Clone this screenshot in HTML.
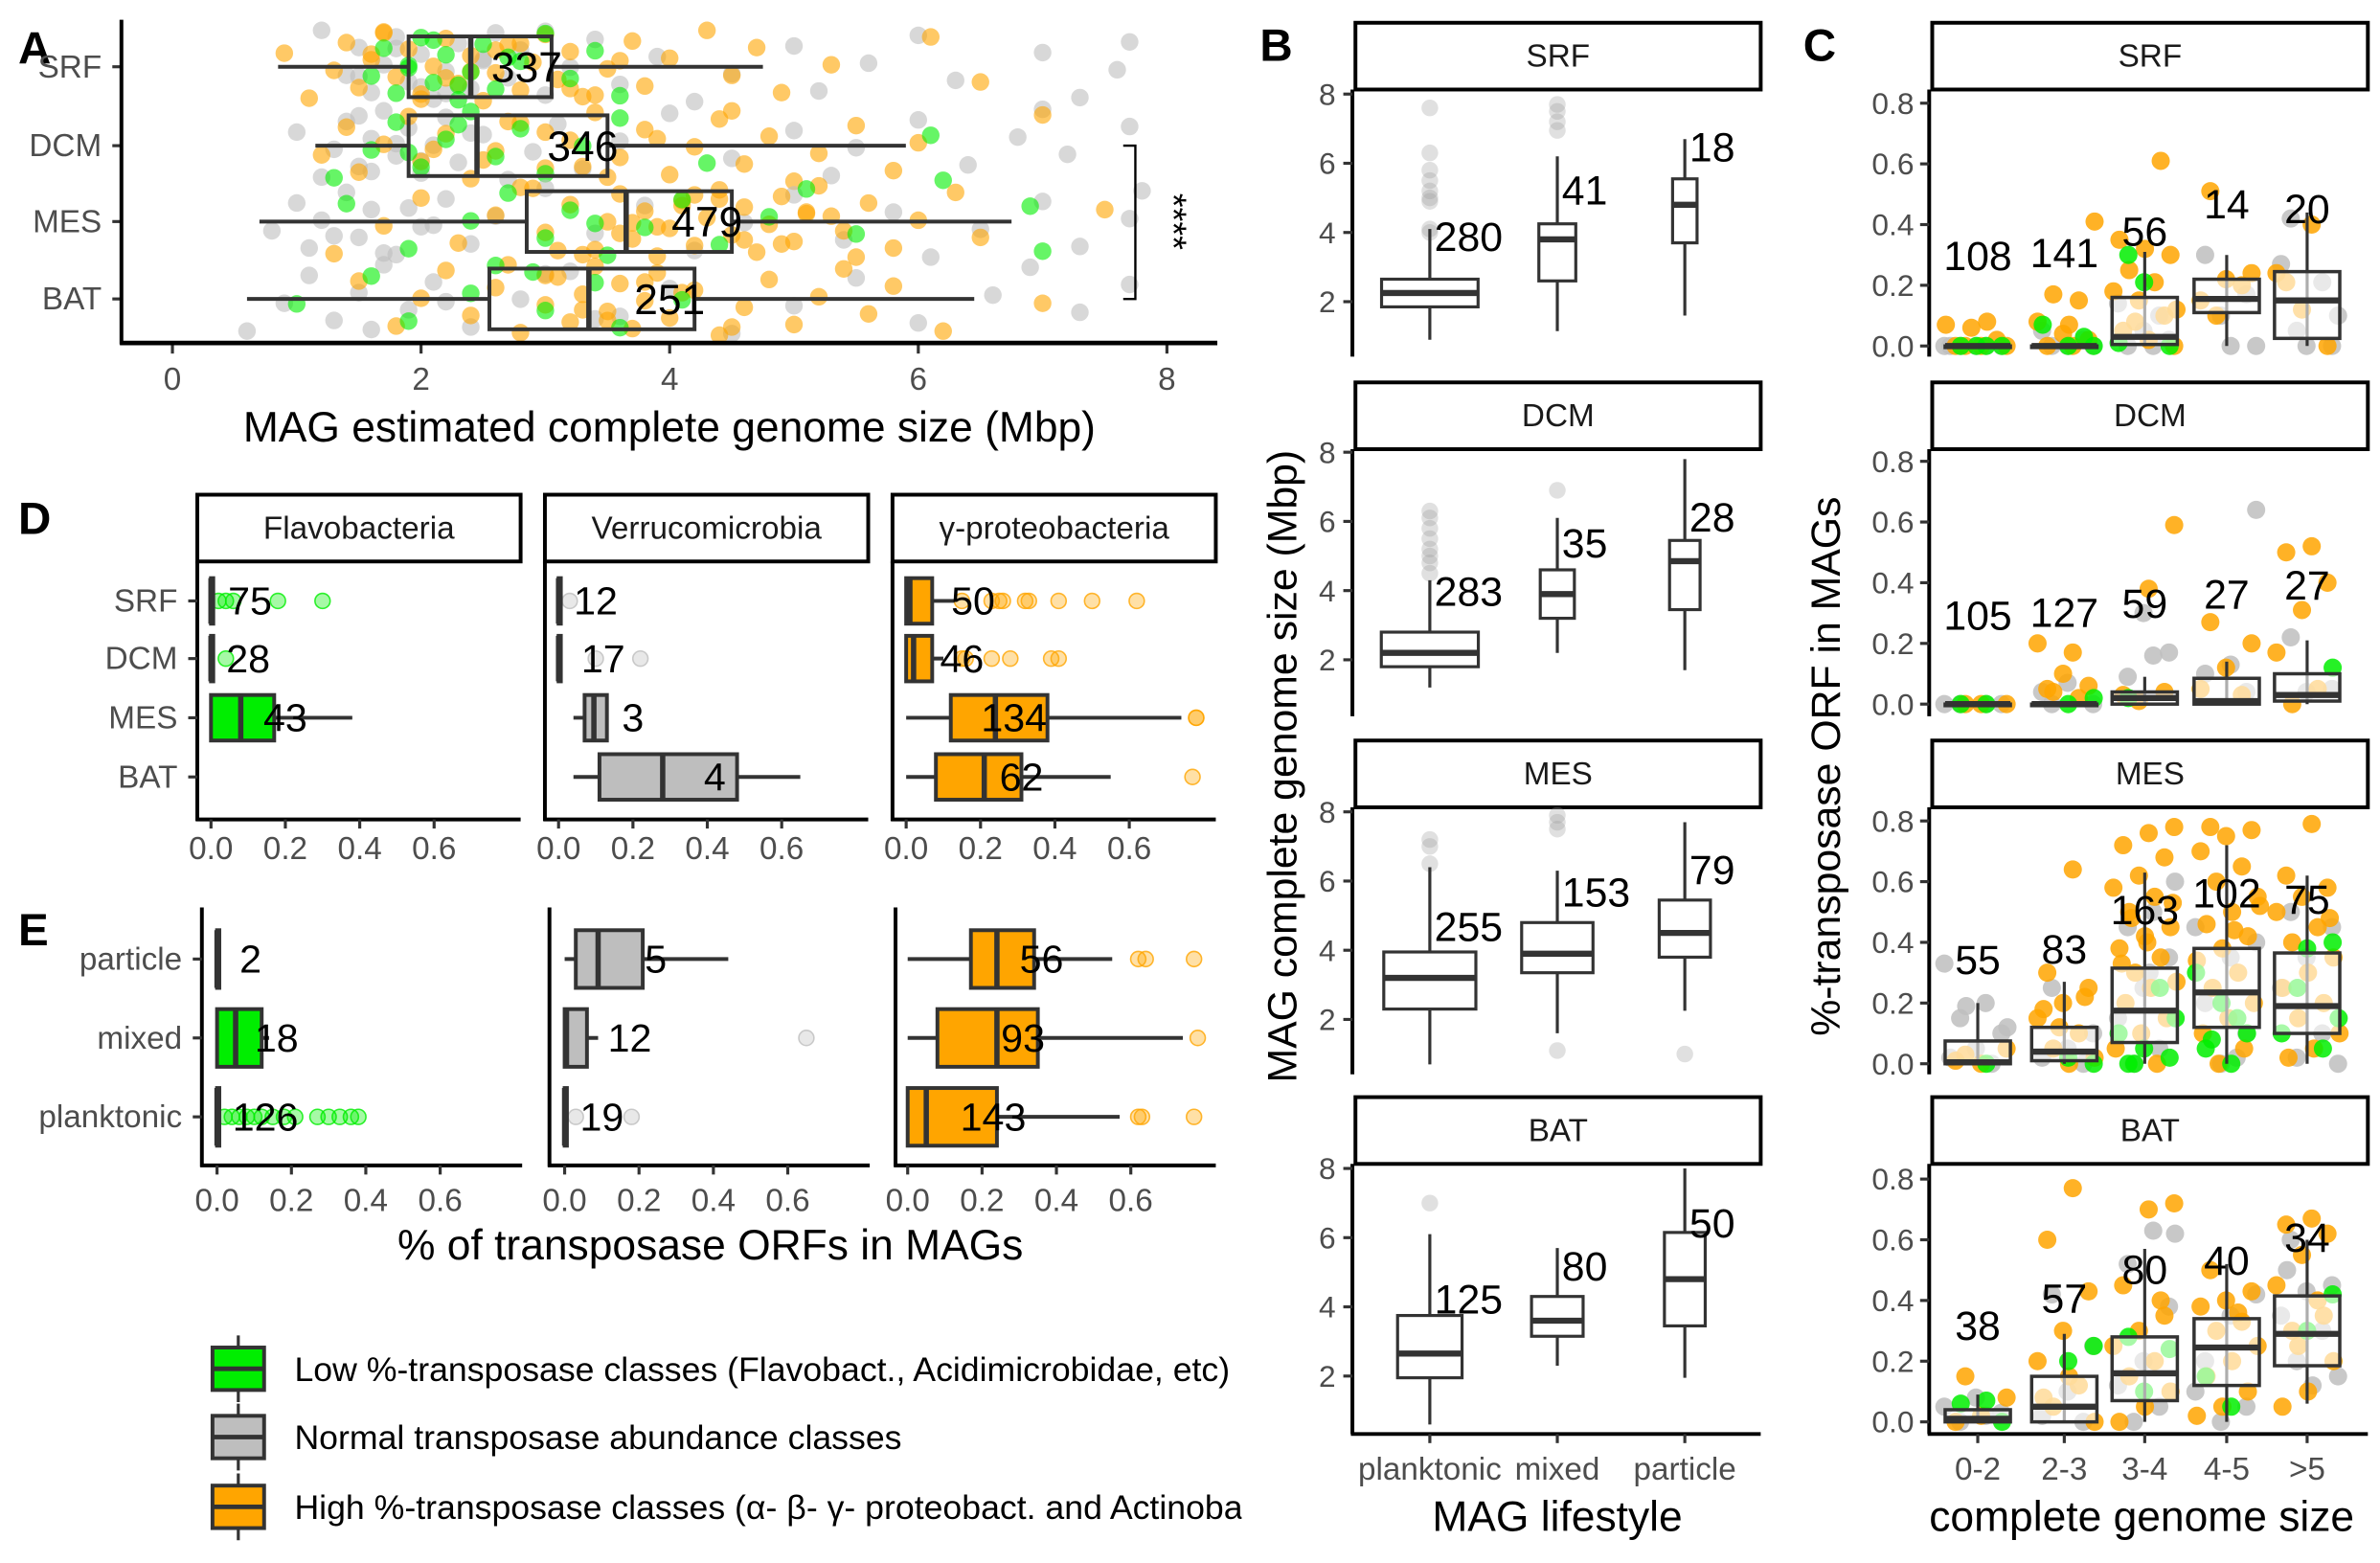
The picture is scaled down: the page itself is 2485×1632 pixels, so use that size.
<!DOCTYPE html>
<html><head><meta charset="utf-8">
<style>
html,body{margin:0;padding:0;background:#fff;}
svg{display:block;font-family:"Liberation Sans",Arial,sans-serif;}
</style></head>
<body>
<svg id="fig" width="2485" height="1632" viewBox="0 0 1568 1030" preserveAspectRatio="none" xmlns="http://www.w3.org/2000/svg">
<defs><clipPath id="legclip"><rect x="0" y="860" width="818" height="170"/></clipPath></defs>
</svg>
<script>
// ---------- DATA ----------
// Panel A: genome size by layer
const aLayers = ["SRF","DCM","MES","BAT"];
const aLow = [0.85,1.15,0.7,0.6];
const aQ1 = [1.9,1.9,2.85,2.55];
const aMed = [2.4,2.45,3.65,3.35];
const aQ3 = [3.05,3.5,4.5,4.2];
const aHigh = [4.75,5.9,6.75,6.45];
const aN = ["337","346","479","251"];
const aTicks = [0,2,4,6,8];
const aOrange = [
 [0.9,1.1,1.3,1.4,1.5,1.6,1.7,1.8,1.9,2.0,2.1,2.2,2.3,2.4,2.5,2.6,2.7,2.8,2.9,3.0,3.1,3.2,3.3,3.5,3.7,3.8,4.0,4.3,4.5,4.7,4.9,5.3,6.1,6.5,1.6,2.0,2.4,2.8,3.2,3.6,1.7,2.2,2.6,3.4],
 [1.2,1.4,1.5,1.7,1.9,2.0,2.2,2.4,2.6,2.8,3.0,3.2,3.4,3.6,3.8,4.0,4.2,4.4,4.6,4.8,5.0,5.2,5.5,5.8,6.0,7.0,2.5,3.0,3.5,2.1,2.7,3.3,3.9,4.5],
 [1.3,1.7,2.0,2.3,2.6,2.8,3.0,3.2,3.4,3.5,3.6,3.7,3.8,3.9,4.0,4.1,4.2,4.3,4.4,4.5,4.6,4.7,4.8,4.9,5.0,5.1,5.2,5.4,5.6,5.8,6.0,6.3,6.5,7.5,3.3,3.9,4.4,4.9,5.3,2.9,3.6,4.1,3.1,3.7,4.2,4.6,5.1,5.5],
 [1.5,1.8,2.0,2.2,2.4,2.6,2.8,3.0,3.1,3.2,3.3,3.4,3.5,3.6,3.7,3.8,3.9,4.0,4.2,4.4,4.6,4.8,5.0,5.2,5.4,5.6,5.8,6.2,7.0,3.0,3.5,4.1,2.7,3.3,3.8,4.5]];
const aGray = [
 [1.2,1.4,1.5,1.6,1.7,1.8,1.9,2.0,2.1,2.2,2.3,2.4,2.5,2.6,2.7,2.8,3.0,3.2,3.4,3.6,3.9,4.2,4.5,5.0,5.2,5.6,6.0,6.3,7.0,7.3,7.6,7.7,2.0,2.5,3.0,1.5,1.8,2.2],
 [1.0,1.2,1.3,1.4,1.5,1.6,1.7,1.8,1.9,2.0,2.1,2.2,2.3,2.5,2.7,2.9,3.1,3.3,3.6,4.0,4.5,5.0,5.3,5.5,6.0,6.4,6.8,7.0,7.2,7.7,1.6,1.8,1.5,2.0,2.4],
 [0.8,1.0,1.1,1.2,1.4,1.5,1.6,1.8,2.0,2.2,2.4,2.6,3.0,3.4,3.8,4.2,4.6,5.0,5.4,5.8,6.1,6.5,7.0,7.3,7.7,7.8,1.3,1.9,1.7,2.1],
 [0.6,0.9,1.1,1.3,1.5,1.7,1.9,2.1,2.4,2.8,3.2,3.6,4.0,4.5,5.0,5.5,6.0,6.6,6.9,7.3,7.7,1.6,2.2,3.0,3.4]];
const aGreen = [
 [1.6,1.7,1.8,1.9,2.0,2.1,2.2,2.3,2.4,2.5,2.6,2.8,3.0,3.2,3.4,3.6,1.9,2.1,2.3,2.7],
 [1.3,1.6,1.8,2.0,2.2,2.4,2.6,2.8,3.0,3.3,3.6,4.3,6.1,6.2,1.9,2.3],
 [1.4,1.9,2.4,2.7,3.0,3.2,3.5,3.8,4.1,4.4,4.8,5.1,5.5,6.9,7.0,3.4],
 [1.0,1.6,1.9,2.4,2.6,3.0,3.4,3.6,4.1,2.9]];

// Panel B: lifestyle x layer
const bLifestyles = ["planktonic","mixed","particle"];
const bLow = [[0.9,1.15,1.6],[1.2,2.2,1.7],[0.7,1.6,2.25],[0.6,2.3,1.95]];
const bQ1 = [[1.85,2.6,3.7],[1.8,3.2,3.45],[2.3,3.35,3.8],[1.95,3.15,3.45]];
const bMed = [[2.25,3.8,4.8],[2.2,3.9,4.85],[3.2,3.9,4.5],[2.65,3.6,4.8]];
const bQ3 = [[2.65,4.25,5.55],[2.8,4.6,5.45],[3.95,4.8,5.45],[3.75,4.3,6.15]];
const bHigh = [[4.1,6.2,6.7],[4.3,6.1,7.8],[6.4,6.3,7.7],[6.1,5.7,8.0]];
const bN = [[280,41,18],[283,35,28],[255,153,79],[125,80,50]];
const bLabelAt = [[3.9,5.25,6.5],[4.0,5.4,6.15],[4.7,5.7,6.35],[4.25,5.2,6.45]];
const bOut = [[[4.0,4.1,4.9,5.0,5.2,5.5,5.8,6.3,7.6],[6.95,7.2,7.5,7.7],[]],
 [[4.5,4.8,5.0,5.2,5.5,5.8,6.1,6.3],[6.9],[]],
 [[6.5,7.0,7.2],[1.1,7.5,7.7,7.9],[1.0]],
 [[7.0],[],[]]];
const bTicks = [2,4,6,8];

// Panel C: %-transposase by genome size class
const cClasses = ["0-2","2-3","3-4","4-5",">5"];
const cLow = [[0,0,0,0,0],[0,0,0,0,0],[0,0,0,0,0],[0,0,0,0,0.06]];
const cQ1 = [[0,0,0.005,0.11,0.025],[0,0,0,0,0.01],[0,0.01,0.07,0.12,0.1],[0,0,0.07,0.12,0.185]];
const cMed = [[0,0,0.03,0.155,0.15],[0,0,0.02,0.01,0.03],[0.005,0.04,0.175,0.235,0.19],[0.01,0.05,0.16,0.245,0.29]];
const cQ3 = [[0,0,0.16,0.22,0.245],[0,0,0.04,0.085,0.1],[0.075,0.12,0.315,0.38,0.365],[0.04,0.15,0.28,0.34,0.415]];
const cHigh = [[0,0,0.31,0.30,0.44],[0,0,0.09,0.14,0.21],[0.2,0.27,0.63,0.72,0.62],[0.09,0.29,0.57,0.52,0.6]];
const cN = [[108,141,56,14,20],[105,127,59,27,27],[55,83,163,102,75],[38,57,80,40,34]];
const cLabelAt = [[0.30,0.31,0.38,0.47,0.455],[0.295,0.305,0.335,0.365,0.395],[0.345,0.38,0.51,0.565,0.545],[0.32,0.41,0.505,0.535,0.61]];
const cTicks = [0,0.2,0.4,0.6,0.8];
const cOrange = [
 [[0,0,0,0,0.02,0.06,0.07,0.08],[0,0,0.02,0.04,0.08,0.15,0.17,0.41,0.07],[0,0.02,0.05,0.1,0.15,0.18,0.21,0.25,0.3,0.32,0.35,0.61,0.08,0.12],[0.51,0.24,0.22,0.15,0.2,0.1],[0.4,0.21,0,0.12,0.24]],
 [[0,0,0],[0.17,0.05,0.06,0.1,0.2,0.02,0.04],[0.59,0.38,0.03,0.04,0.01],[0.27,0.2,0.12,0.05,0.03],[0.52,0.5,0.4,0.31,0.17,0.05,0]],
 [[0.03,0.05,0,0.01],[0.64,0.3,0.25,0.2,0.15,0.1,0.05,0.02,0,0.18,0.22,0.12],[0.78,0.76,0.72,0.68,0.62,0.58,0.55,0.5,0.45,0.42,0.38,0.35,0.3,0.27,0.25,0.2,0.15,0.1,0.05,0,0.48,0.53,0.4,0.33],[0.78,0.77,0.75,0.7,0.65,0.6,0.55,0.5,0.46,0.42,0.38,0.34,0.3,0.25,0.2,0.15,0.1,0.05,0,0.52,0.44],[0.79,0.62,0.58,0.55,0.5,0.45,0.4,0.35,0.3,0.25,0.2,0.15,0.1,0.05,0.02,0.48]],
 [[0.15,0.08,0.02,0],[0.77,0.6,0.43,0.3,0.2,0.12,0.05,0,0.15,0.08],[0.72,0.7,0.45,0.35,0.3,0.25,0.2,0.15,0.1,0.05,0,0.4],[0.5,0.43,0.4,0.38,0.33,0.3,0.25,0.2,0.15,0.1,0.05,0.02,0.36],[0.67,0.65,0.62,0.55,0.45,0.4,0.3,0.2,0.1,0.05,0.35,0.25]]];
const cGray = [
 [[0,0,0,0,0,0],[0,0,0,0.05,0.02],[0,0,0.02,0.05,0.14,0.1],[0,0,0.3,0.17,0.1],[0.42,0,0,0.27,0.21,0.05,0.1]],
 [[0,0,0,0],[0,0,0.07,0.04],[0.16,0.09,0.17,0.3],[0.64,0.13,0.1,0.04],[0.22,0.05,0.04]],
 [[0.33,0.2,0.15,0.1,0.05,0.02,0,0.19,0.12],[0.25,0.1,0.05,0.02,0],[0.5,0.45,0.35,0.25,0.15,0.05,0,0.6,0.3],[0.4,0.35,0.2,0.1,0,0.45,0.02],[0.5,0.45,0.35,0.25,0.1,0.02,0]],
 [[0.05,0.02,0,0.03,0.08],[0.42,0.25,0.1,0.02,0],[0.63,0.52,0.38,0.2,0.12,0.05,0,0.62],[0.42,0.35,0.2,0.05,0,0.1],[0.6,0.45,0.43,0.35,0.3,0.2,0.15,0.12,0.5]]];
const cGreen = [
 [[0,0,0,0],[0,0,0.07,0.03],[0.3,0,0.21,0.01],[],[]],
 [[0,0],[0.02,0],[0.02],[],[0.12]],
 [[0],[0,0.02],[0,0.02,0.05,0.1,0.25,0,0.15],[0,0.05,0.1,0.2,0.3,0.15,0.08],[0.4,0.38,0.1,0.05,0.25,0.15]],
 [[0.07,0.06,0],[0.25,0.2],[0.28,0.24,0.1],[0.05,0.15],[0.42,0.3]]];

// Panels D/E: taxa
const taxa = ["Flavobacteria","Verrucomicrobia","γ-proteobacteria"];
const taxaColors = ["#00EE00","#BEBEBE","#FFA500"];
const dRows = ["SRF","DCM","MES","BAT"];
const dLow = [[0,0,0,null],[0,0,0.04,0.04],[0,0,0,0]];
const dQ1 = [[0,0,0,null],[0,0,0.07,0.11],[0,0,0.12,0.08]];
const dMed = [[0,0,0.08,null],[0,0,0.095,0.28],[0.01,0.02,0.24,0.21]];
const dQ3 = [[0,0,0.17,null],[0,0,0.13,0.48],[0.07,0.07,0.38,0.31]];
const dHigh = [[0,0,0.38,null],[0,0,0.13,0.65],[0.13,0.1,0.74,0.55]];
const dN = [["75","28","43",""],["12","17","3","4"],["50","46","134","62"]];
const dLabelAt = [[0.105,0.1,0.2,0],[0.1,0.12,0.2,0.42],[0.18,0.15,0.29,0.31]];
const dOut = [[[0.02,0.04,0.06,0.18,0.3],[0.04],[],[]],[[0.03],[0.1,0.22],[],[]],[[0.15,0.23,0.25,0.26,0.32,0.33,0.41,0.5,0.62],[0.15,0.16,0.23,0.28,0.39,0.41],[0.78,0.78],[0.77]]];
const eRows = ["particle","mixed","planktonic"];
const eLow = [[0,0,0],[0,0,0],[0,0,0]];
const eQ1 = [[0,0,0],[0.03,0,0],[0.17,0.08,0]];
const eMed = [[0,0.05,0],[0.09,0.005,0],[0.24,0.24,0.05]];
const eQ3 = [[0,0.12,0],[0.21,0.06,0],[0.34,0.35,0.24]];
const eHigh = [[0,0.14,0],[0.44,0.09,0],[0.55,0.74,0.57]];
const eN = [["2","18","126"],["5","12","19"],["56","93","143"]];
const eLabelAt = [[0.09,0.16,0.13],[0.245,0.175,0.1],[0.36,0.31,0.23]];
const eOut = [[[],[],[0.02,0.04,0.06,0.08,0.1,0.12,0.15,0.18,0.21,0.27,0.3,0.33,0.36,0.38]],[[],[0.65],[0.03,0.18]],[[0.62,0.64,0.77],[0.78],[0.62,0.63,0.77]]];
const dTicks = [0,0.2,0.4,0.6];
const legendLabels = ["Low %-transposase classes (Flavobact., Acidimicrobidae, etc)","Normal transposase abundance classes","High %-transposase classes (α- β- γ- proteobact. and Actinobacteria)"];

// ---------- SCALES ----------
const ax = v => 113.6 + v*81.9;
const aRowY = [44,96,146,197];
const bTop = [62,298,535,770];
const by = (p,v) => bTop[p] + (8-v)*22.8;
const bCatX = [942,1026,1110];
const cBot = [228,464,701,937];
const cy = (p,v) => cBot[p] - v*200;
const cCatX = [1303,1360,1413,1467,1520];
const d0 = [139,368,597];
const dx = (f,v) => d0[f] + v*245;
const dRowY = [396,434,473,512];
const e0 = [143,372,598];
const ex = (f,v) => e0[f] + v*245;
const eRowY = [632,684,736];

// ---------- HELPERS ----------
const svg = document.getElementById('fig');
const NS = "http://www.w3.org/2000/svg";
function mk(tag, attrs, parent){
  const el = document.createElementNS(NS, tag);
  for (const k in attrs) el.setAttribute(k, attrs[k]);
  (parent||svg).appendChild(el);
  return el;
}
function txt(x,y,s,size,anchor,fill,parent,extra){
  const t = mk('text',Object.assign({x:x,y:y,'font-size':size,'text-anchor':anchor||'start',fill:fill||'#000'},extra||{}),parent);
  t.textContent = s;
  return t;
}
function jit(i,k){ return ((i*0.6180339 + k*0.3137) % 1) - 0.5; }
const STK = '#333333';
const COL = {o:'#FFA500', g:'#BEBEBE', n:'#00EE00'};

// ---------- PANEL LETTERS ----------
[["A",12,42],["B",830,40],["C",1188,40],["D",12,352],["E",12,623]].forEach(L=>{
  const t = txt(L[1],L[2],L[0],30,'start','#000',svg,{'font-weight':'bold'});
  
  
});

// ---------- PANEL A ----------
const gA = mk('g',{});


aLayers.forEach((lay,r)=>{
  const cy0 = aRowY[r];
  [[aGray[r],COL.g,0],[aOrange[r],COL.o,1],[aGreen[r],COL.n,2]].forEach(([arr,c,k])=>{
    arr.forEach((v,i)=>{
      const p = mk('circle',{cx:ax(v),cy:cy0+jit(i,k+r)*48,r:5.8,fill:c,'fill-opacity':0.6},gA);
      
      
    });
  });
});
aLayers.forEach((lay,r)=>{
  const y = aRowY[r];
  const w1 = mk('line',{x1:ax(aLow[r]),x2:ax(aQ1[r]),y1:y,y2:y,stroke:STK,'stroke-width':2.5},gA);
  
  
  const w2 = mk('line',{x1:ax(aQ3[r]),x2:ax(aHigh[r]),y1:y,y2:y,stroke:STK,'stroke-width':2.5},gA);
  
  
  const b = mk('rect',{x:ax(aQ1[r]),y:y-20,width:ax(aQ3[r])-ax(aQ1[r]),height:40,fill:'none',stroke:STK,'stroke-width':2.5},gA);
  
  
  const m = mk('line',{x1:ax(aMed[r]),x2:ax(aMed[r]),y1:y-20,y2:y+20,stroke:STK,'stroke-width':3.5},gA);
  
  
  const t = txt(ax(aQ3[r]-0.2),y+10,aN[r],28,'middle','#000',gA);
  
  
  const tk = mk('line',{x1:74,x2:80,y1:y,y2:y,stroke:STK,'stroke-width':2},gA);
  
  
  const tl = txt(67,y+7,lay,21,'end','#4D4D4D',gA);
  
  
});
aTicks.forEach(v=>{
  const tk = mk('line',{x1:ax(v),x2:ax(v),y1:227,y2:233,stroke:STK,'stroke-width':2},gA);
  
  
  const tl = txt(ax(v),257,String(v),21,'middle','#4D4D4D',gA);
  
  
});
const aAxY = mk('line',{x1:80,x2:80,y1:13,y2:227,stroke:'#000','stroke-width':2.5},gA);


const aAxX = mk('line',{x1:79,x2:802,y1:226,y2:226,stroke:'#000','stroke-width':3},gA);


const aTitle = txt(441,291,'MAG estimated complete genome size (Mbp)',28,'middle','#000',gA);


const br = mk('path',{d:'M740 96 H748 V197 H740',fill:'none',stroke:'#000','stroke-width':1.5},gA);


const star = txt(0,0,'****',24,'middle','#000',gA,{transform:'translate(765,146) rotate(90)'});



// ---------- STRIP helper ----------
function strip(x,y,w,h,label,parent,name){
  const g = mk('g',{},parent);
  
  
  mk('rect',{x:x,y:y,width:w,height:h,fill:'#fff',stroke:'#000','stroke-width':2.5},g);
  txt(x+w/2,y+h/2+7,label,21,'middle','#1a1a1a',g);
}

// ---------- PANEL B ----------
const gB = mk('g',{});


const bStripY = [15,252,488,723];
aLayers.forEach((lay,p)=>{
  strip(893,bStripY[p],267,44,lay,gB,'strip-b-'+lay.toLowerCase());
  const yTopAx = bStripY[p]+44, yBot = p===3?945:bStripY[p]+220;
  const axl = mk('line',{x1:891,x2:891,y1:yTopAx,y2:yBot,stroke:'#000','stroke-width':2.5},gB);
  
  
  bTicks.forEach(v=>{
    mk('line',{x1:885,x2:891,y1:by(p,v),y2:by(p,v),stroke:STK,'stroke-width':2},gB);
    const tl = txt(880,by(p,v)+7,String(v),20,'end','#4D4D4D',gB);
    
    
  });
  bLifestyles.forEach((ls,c)=>{
    const x = bCatX[c];
    const hw = Math.min(32, 1.9*Math.sqrt(bN[p][c]));
    bOut[p][c].forEach(v=>{
      const o = mk('circle',{cx:x,cy:by(p,v),r:5.5,fill:'#999','fill-opacity':0.3},gB);
      
      
    });
    const wl = mk('line',{x1:x,x2:x,y1:by(p,bLow[p][c]),y2:by(p,bHigh[p][c]),stroke:STK,'stroke-width':2},gB);
    
    
    const b = mk('rect',{x:x-hw,y:by(p,bQ3[p][c]),width:2*hw,height:by(p,bQ1[p][c])-by(p,bQ3[p][c]),fill:'#fff',stroke:STK,'stroke-width':2},gB);
    
    
    const m = mk('line',{x1:x-hw,x2:x+hw,y1:by(p,bMed[p][c]),y2:by(p,bMed[p][c]),stroke:STK,'stroke-width':4},gB);
    
    
    const t = txt(x+3,by(p,bLabelAt[p][c])+10,String(bN[p][c]),27,'start','#000',gB);
    
    
  });
});
const bAxX = mk('line',{x1:890,x2:1160,y1:945,y2:945,stroke:'#000','stroke-width':2.5},gB);


bLifestyles.forEach((ls,c)=>{
  mk('line',{x1:bCatX[c],x2:bCatX[c],y1:945,y2:951,stroke:STK,'stroke-width':2},gB);
  const tl = txt(bCatX[c],975,ls,21,'middle','#4D4D4D',gB);
  
  
});
const bXT = txt(1026,1009,'MAG lifestyle',28,'middle','#000',gB);


const bYT = txt(0,0,'MAG complete genome size (Mbp)',27,'middle','#000',gB,{transform:'translate(854,505) rotate(-90)'});



// ---------- PANEL C ----------
const gC = mk('g',{});


aLayers.forEach((lay,p)=>{
  strip(1273,bStripY[p],287,44,lay,gC,'strip-c-'+lay.toLowerCase());
  const yTopAx = bStripY[p]+44, yBot = p===3?945:bStripY[p]+220;
  const axl = mk('line',{x1:1271,x2:1271,y1:yTopAx,y2:yBot,stroke:'#000','stroke-width':2.5},gC);
  
  
  cTicks.forEach(v=>{
    mk('line',{x1:1265,x2:1271,y1:cy(p,v),y2:cy(p,v),stroke:STK,'stroke-width':2},gC);
    const tl = txt(1261,cy(p,v)+7,v.toFixed(1),20,'end','#4D4D4D',gC);
    
    
  });
  cClasses.forEach((cl,c)=>{
    const x = cCatX[c];
    [[cGray[p][c],COL.g,0],[cOrange[p][c],COL.o,1],[cGreen[p][c],COL.n,2]].forEach(([arr,col,k])=>{
      arr.forEach((v,i)=>{
        const pt = mk('circle',{cx:x+jit(i,k+c)*44,cy:cy(p,v),r:6,fill:col,'fill-opacity':0.85},gC);
        
        
      });
    });
  });
  cClasses.forEach((cl,c)=>{
    const x = cCatX[c], hw=21.5;
    const wl = mk('line',{x1:x,x2:x,y1:cy(p,cLow[p][c]),y2:cy(p,cHigh[p][c]),stroke:STK,'stroke-width':2},gC);
    
    
    const b = mk('rect',{x:x-hw,y:cy(p,cQ3[p][c]),width:2*hw,height:Math.max(1,cy(p,cQ1[p][c])-cy(p,cQ3[p][c])),fill:'#fff','fill-opacity':0.6,stroke:STK,'stroke-width':2.2},gC);
    
    
    const m = mk('line',{x1:x-hw,x2:x+hw,y1:cy(p,cMed[p][c]),y2:cy(p,cMed[p][c]),stroke:STK,'stroke-width':4},gC);
    
    
    const t = txt(x,cy(p,cLabelAt[p][c])+10,String(cN[p][c]),27,'middle','#000',gC);
    
    
  });
});
const cAxX = mk('line',{x1:1270,x2:1560,y1:945,y2:945,stroke:'#000','stroke-width':2.5},gC);


cClasses.forEach((cl,c)=>{
  mk('line',{x1:cCatX[c],x2:cCatX[c],y1:945,y2:951,stroke:STK,'stroke-width':2},gC);
  const tl = txt(cCatX[c],975,cl,21,'middle','#4D4D4D',gC);
  
  
});
const cXT = txt(1411,1009,'complete genome size',28,'middle','#000',gC);


const cYT = txt(0,0,'%-transposase ORF in MAGs',27,'middle','#000',gC,{transform:'translate(1212,505) rotate(-90)'});



// ---------- PANELS D & E ----------
const gD = mk('g',{});


const gE = mk('g',{});


const dAxL = [130,359,588], eAxL = [133,362,590];
function hbox(g,sx,f,y,lo,q1,md,q3,hi,hh,col,outs,n,labAt){
  outs.forEach(v=>{
    const o = mk('circle',{cx:sx(f,v),cy:y,r:5,fill:col,'fill-opacity':0.35,stroke:col,'stroke-opacity':0.8,'stroke-width':1},g);
    
    
  });
  if (lo!==null){
    const wl = mk('line',{x1:sx(f,lo),x2:sx(f,hi),y1:y,y2:y,stroke:STK,'stroke-width':2.5},g);
    
    
    const w = Math.max(sx(f,q3)-sx(f,q1),1.5);
    const b = mk('rect',{x:sx(f,q1),y:y-hh,width:w,height:2*hh,fill:col,stroke:STK,'stroke-width':2.5},g);
    
    
    const m = mk('line',{x1:sx(f,md),x2:sx(f,md),y1:y-hh,y2:y+hh,stroke:STK,'stroke-width':3.5},g);
    
    
  }
  if (n){
    const t = txt(sx(f,labAt),y+9,n,26,'middle','#000',g);
    
    
  }
}
taxa.forEach((tx,f)=>{
  const L = dAxL[f];
  strip(L,326,213,44,tx,gD,'strip-d-'+f);
  const ay = mk('line',{x1:L,x2:L,y1:370,y2:541,stroke:'#000','stroke-width':2.5},gD);
  
  
  const axx = mk('line',{x1:L-1,x2:L+213,y1:540,y2:540,stroke:'#000','stroke-width':2.5},gD);
  
  
  dTicks.forEach(v=>{
    mk('line',{x1:dx(f,v),x2:dx(f,v),y1:540,y2:546,stroke:STK,'stroke-width':2},gD);
    const tl = txt(dx(f,v),566,v.toFixed(1),21,'middle','#4D4D4D',gD);
    
    
  });
  dRows.forEach((rw,r)=>{
    hbox(gD,dx,f,dRowY[r],dLow[f][r],dQ1[f][r],dMed[f][r],dQ3[f][r],dHigh[f][r],15,taxaColors[f],dOut[f][r],dN[f][r],dLabelAt[f][r]);
  });
  const EL = eAxL[f];
  const ay2 = mk('line',{x1:EL,x2:EL,y1:598,y2:769,stroke:'#000','stroke-width':2.5},gE);
  
  
  const axx2 = mk('line',{x1:EL-1,x2:EL+211,y1:768,y2:768,stroke:'#000','stroke-width':2.5},gE);
  
  
  dTicks.forEach(v=>{
    mk('line',{x1:ex(f,v),x2:ex(f,v),y1:768,y2:774,stroke:STK,'stroke-width':2},gE);
    const tl = txt(ex(f,v),798,v.toFixed(1),21,'middle','#4D4D4D',gE);
    
    
  });
  eRows.forEach((rw,r)=>{
    hbox(gE,ex,f,eRowY[r],eLow[f][r],eQ1[f][r],eMed[f][r],eQ3[f][r],eHigh[f][r],19,taxaColors[f],eOut[f][r],eN[f][r],eLabelAt[f][r]);
  });
});
dRows.forEach((rw,r)=>{
  mk('line',{x1:124,x2:130,y1:dRowY[r],y2:dRowY[r],stroke:STK,'stroke-width':2},gD);
  const tl = txt(117,dRowY[r]+7,rw,21,'end','#4D4D4D',gD);
  
  
});
eRows.forEach((rw,r)=>{
  mk('line',{x1:127,x2:133,y1:eRowY[r],y2:eRowY[r],stroke:STK,'stroke-width':2},gE);
  const tl = txt(120,eRowY[r]+7,rw,21,'end','#4D4D4D',gE);
  
  
});
const eXT = txt(468,830,'% of transposase ORFs in MAGs',28,'middle','#000',gE);



// ---------- LEGEND ----------
const gL = mk('g',{'clip-path':'url(#legclip)'});


const legY = [902,947,993];
legendLabels.forEach((lab,i)=>{
  const g = mk('g',{},gL);
  
  
  const y = legY[i];
  mk('line',{x1:157,x2:157,y1:y-22,y2:y+22,stroke:STK,'stroke-width':2},g);
  mk('rect',{x:140,y:y-14,width:34,height:28,fill:taxaColors[i],stroke:STK,'stroke-width':2.5},g);
  mk('line',{x1:140,x2:174,y1:y,y2:y,stroke:STK,'stroke-width':3},g);
  txt(194,y+8,lab,22.5,'start','#000',g);
});
</script>
</body></html>
